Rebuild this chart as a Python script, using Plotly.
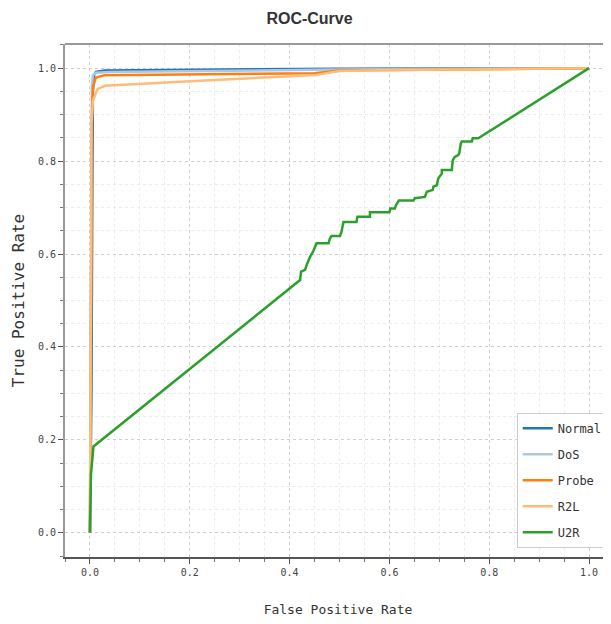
import plotly.graph_objects as go

# ---- data ----
normal_fpr = [0.0, 0.003, 0.005, 0.006, 0.008, 0.012, 0.03, 0.2, 0.5, 1.0]
normal_tpr = [0.0, 0.30, 0.80, 0.95, 0.985, 0.992, 0.995, 0.997, 0.999, 1.0]

dos_fpr = [0.0, 0.002, 0.003, 0.004, 0.006, 0.012, 0.04, 0.5, 1.0]
dos_tpr = [0.0, 0.50, 0.90, 0.965, 0.985, 0.990, 0.992, 0.997, 1.0]

probe_fpr = [0.0, 0.002, 0.004, 0.006, 0.012, 0.03, 0.2, 0.45, 0.5, 1.0]
probe_tpr = [0.0, 0.60, 0.90, 0.96, 0.980, 0.985, 0.987, 0.989, 0.995, 1.0]

r2l_fpr = [0.0, 0.001, 0.003, 0.006, 0.015, 0.03, 0.2, 0.45, 0.5, 0.6, 1.0]
r2l_tpr = [0.0, 0.50, 0.88, 0.93, 0.955, 0.962, 0.972, 0.985, 0.994, 0.996, 1.0]

u2r_fpr = [0.0, 0.001, 0.002, 0.007, 0.421, 0.423, 0.431, 0.434, 0.441, 0.447, 0.454,
           0.478, 0.481, 0.484, 0.501, 0.504, 0.508, 0.534, 0.536, 0.561, 0.561,
           0.600, 0.602, 0.611, 0.613, 0.619, 0.648, 0.651, 0.671, 0.675, 0.687,
           0.688, 0.695, 0.698, 0.705, 0.705, 0.725, 0.727, 0.731, 0.738, 0.740,
           0.743, 0.745, 0.765, 0.767, 0.778, 1.0]
u2r_tpr = [0.0, 0.08, 0.125, 0.186, 0.544, 0.562, 0.566, 0.576, 0.594, 0.605, 0.623,
           0.623, 0.634, 0.639, 0.639, 0.648, 0.669, 0.669, 0.680, 0.680, 0.690,
           0.690, 0.698, 0.698, 0.705, 0.715, 0.715, 0.720, 0.723, 0.734, 0.738,
           0.745, 0.748, 0.763, 0.773, 0.781, 0.781, 0.802, 0.809, 0.813, 0.817,
           0.838, 0.842, 0.842, 0.849, 0.849, 1.0]

series = [
    ("Normal", normal_fpr, normal_tpr, "#1f77b4"),
    ("DoS", dos_fpr, dos_tpr, "#aec7e8"),
    ("Probe", probe_fpr, probe_tpr, "#ff7f0e"),
    ("R2L", r2l_fpr, r2l_tpr, "#ffbb78"),
    ("U2R", u2r_fpr, u2r_tpr, "#2ca02c"),
]

tick_vals = [0.0, 0.2, 0.4, 0.6, 0.8, 1.0]
tick_text = ["0.0", "0.2", "0.4", "0.6", "0.8", "1.0"]

mono = "DejaVu Sans Mono"

fig = go.Figure()
for name, xs, ys, color in series:
    fig.add_trace(go.Scatter(
        x=xs, y=ys, mode="lines", name=name, legendgroup=name,
        line=dict(color=color, width=2.5),
    ))

axis_common = dict(
    tickvals=tick_vals, ticktext=tick_text,
    ticks="outside", ticklen=5, tickwidth=1, tickcolor="#555",
    tickfont=dict(family=mono, size=10, color="#444"),
    showgrid=True, gridcolor="#cfcfcf", griddash="dot", gridwidth=1,
    minor=dict(dtick=0.05, ticks="outside", ticklen=3, tickcolor="#777",
               showgrid=True, gridcolor="#ececec", griddash="dot", gridwidth=1),
    zeroline=False, showline=True, automargin=False,
)

fig.update_layout(
    width=603, height=616,
    margin=dict(l=57, r=0, t=36, b=67),
    paper_bgcolor="white", plot_bgcolor="white",
    title=dict(text="<b>ROC-Curve</b>", x=0.5, xanchor="center", y=0.983, yanchor="middle",
               font=dict(family="Liberation Sans Narrow, Liberation Sans, Arial", size=16, color="#333")),
    xaxis=dict(range=[-0.05, 1.044], linecolor="#555", linewidth=2,
               title=dict(text="False Positive Rate", standoff=28,
                          font=dict(family=mono, size=13, color="#333")),
               **axis_common),
    yaxis=dict(range=[-0.052, 1.052], linecolor="#999", linewidth=2,
               title=dict(text="True Positive Rate", standoff=9,
                          font=dict(family=mono, size=16, color="#333")),
               **axis_common),
    legend=dict(x=0.994, y=0.018, xanchor="right", yanchor="bottom",
                bgcolor="white", bordercolor="#cccccc", borderwidth=1,
                font=dict(family=mono, size=12, color="#333"),
                tracegroupgap=7, itemwidth=30),
    showlegend=True,
)

fig.add_shape(type="line", xref="paper", yref="paper", x0=0, x1=1, y0=1, y1=1,
              line=dict(color="#999", width=2))

fig.write_html("out.html")
